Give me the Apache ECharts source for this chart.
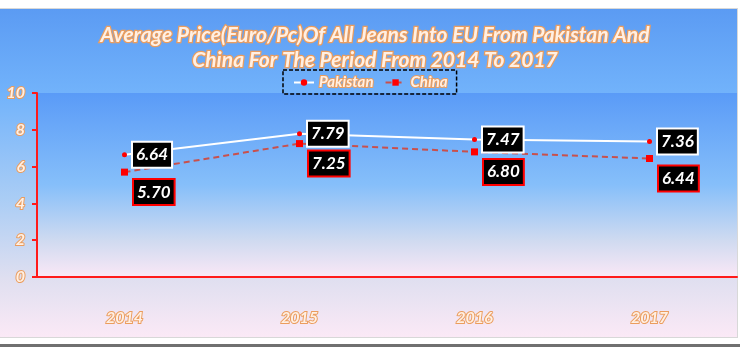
<!DOCTYPE html>
<html>
<head>
<meta charset="utf-8">
<script src="https://cdn.jsdelivr.net/npm/echarts@6/dist/echarts.min.js"></script>
<style>
html,body{margin:0;padding:0;background:#fff;}
#c{width:740px;height:350px;}
</style>
</head>
<body>
<div id="c"></div>
<script>
var categories = ['2014', '2015', '2016', '2017'];
var pakistan = [6.64, 7.79, 7.47, 7.36];
var china = [5.70, 7.25, 6.80, 6.44];
var yTicks = [0, 2, 4, 6, 8, 10];

var FONT = 'Lato';
var txtFill = '#fff0e4';
var txtStroke = '#eb9d5e';

var chart = echarts.init(document.getElementById('c'), null, {renderer: 'canvas'});

function grad(stops) {
  return new echarts.graphic.LinearGradient(0, 0, 0, 1, stops.map(function (s) { return {offset: s[0], color: s[1]}; }));
}

var option = {
  backgroundColor: '#ffffff',
  animation: false,
  graphic: [
    {type: 'rect', z: -100, shape: {x: 0, y: 8, width: 738, height: 330},
     style: {fill: '#d8d8d8'}},
    {type: 'rect', z: -99, shape: {x: 0, y: 9, width: 737, height: 328},
     style: {fill: grad([[0, '#5b9bf3'], [0.26, '#72b3fb'], [0.58, '#aacdf5'], [0.82, '#dfdff0'], [1, '#fbe9f6']])}},
    {type: 'rect', z: -99, shape: {x: 0, y: 344, width: 740, height: 3},
     style: {fill: '#707070'}}
  ],
  title: {
    text: 'Average Price(Euro/Pc)Of All Jeans Into EU From Pakistan And\nChina For The Period From 2014 To 2017',
    left: 370,
    top: 18,
    textAlign: 'center',
    textStyle: {
      fontFamily: FONT, fontSize: 21, fontWeight: 'bold', fontStyle: 'italic',
      color: txtFill, textBorderColor: txtStroke, textBorderWidth: 2.5,
      lineHeight: 25
    }
  },
  legend: {
    data: ['Pakistan', 'China'],
    top: 70,
    left: 283,
    width: 171,
    height: 24,
    padding: [4, 8, 3, 10],
    itemGap: 10,
    itemWidth: 20,
    itemHeight: 8,
    borderColor: '#000',
    borderWidth: 1.5,
    borderType: [4, 2],
    textStyle: {
      fontFamily: FONT, fontSize: 15, fontWeight: 'bold', fontStyle: 'italic',
      color: txtFill, textBorderColor: txtStroke, textBorderWidth: 2
    }
  },
  grid: {
    left: 37, right: 3, top: 93, bottom: 73,
    show: true,
    borderWidth: 0,
    backgroundColor: grad([[0, '#5a9bf7'], [0.5, '#86bffa'], [0.8, '#cfdaf0'], [1, '#fae8f6']])
  },
  xAxis: {
    type: 'category',
    data: categories,
    boundaryGap: true,
    axisLine: {lineStyle: {color: '#ff1a1a', width: 2}},
    axisTick: {show: false},
    axisLabel: {
      margin: 33,
      fontFamily: FONT, fontSize: 16, fontWeight: 'bold', fontStyle: 'italic',
      color: txtFill, textBorderColor: txtStroke, textBorderWidth: 2
    }
  },
  yAxis: {
    type: 'value',
    min: yTicks[0], max: yTicks[yTicks.length - 1], interval: 2,
    axisLine: {show: true, lineStyle: {color: '#ff1a1a', width: 2}},
    axisTick: {show: true, length: 5, lineStyle: {color: '#ff1a1a', width: 2}},
    splitLine: {show: false},
    axisLabel: {
      margin: 12,
      fontFamily: FONT, fontSize: 16, fontWeight: 'bold', fontStyle: 'italic',
      color: txtFill, textBorderColor: txtStroke, textBorderWidth: 2
    }
  },
  series: [
    {
      name: 'Pakistan', type: 'line', data: pakistan,
      symbol: 'circle', symbolSize: 5,
      itemStyle: {color: '#ff0000'},
      lineStyle: {color: '#ffffff', width: 2},
      z: 3,
      label: {
        show: true, position: 'right', distance: 6,
        formatter: function (p) { return p.value.toFixed(2); },
        backgroundColor: '#000', borderColor: '#ffffff', borderWidth: 2,
        padding: [4, 3, 3, 3],
        fontFamily: FONT, fontSize: 17, fontWeight: 'bold', fontStyle: 'italic',
        color: '#ffffff'
      }
    },
    {
      name: 'China', type: 'line', data: china,
      symbol: 'rect', symbolSize: 7,
      itemStyle: {color: '#ff0000'},
      lineStyle: {color: '#c9504c', width: 2, type: [6, 4]},
      label: {
        show: true, position: 'right', distance: 6, offset: [0, 20],
        formatter: function (p) { return p.value.toFixed(2); },
        backgroundColor: '#000', borderColor: '#ff0000', borderWidth: 2,
        padding: [4, 3, 3, 3],
        fontFamily: FONT, fontSize: 17, fontWeight: 'bold', fontStyle: 'italic',
        color: '#ffffff'
      }
    }
  ]
};
chart.setOption(option);
</script>
</body>
</html>
